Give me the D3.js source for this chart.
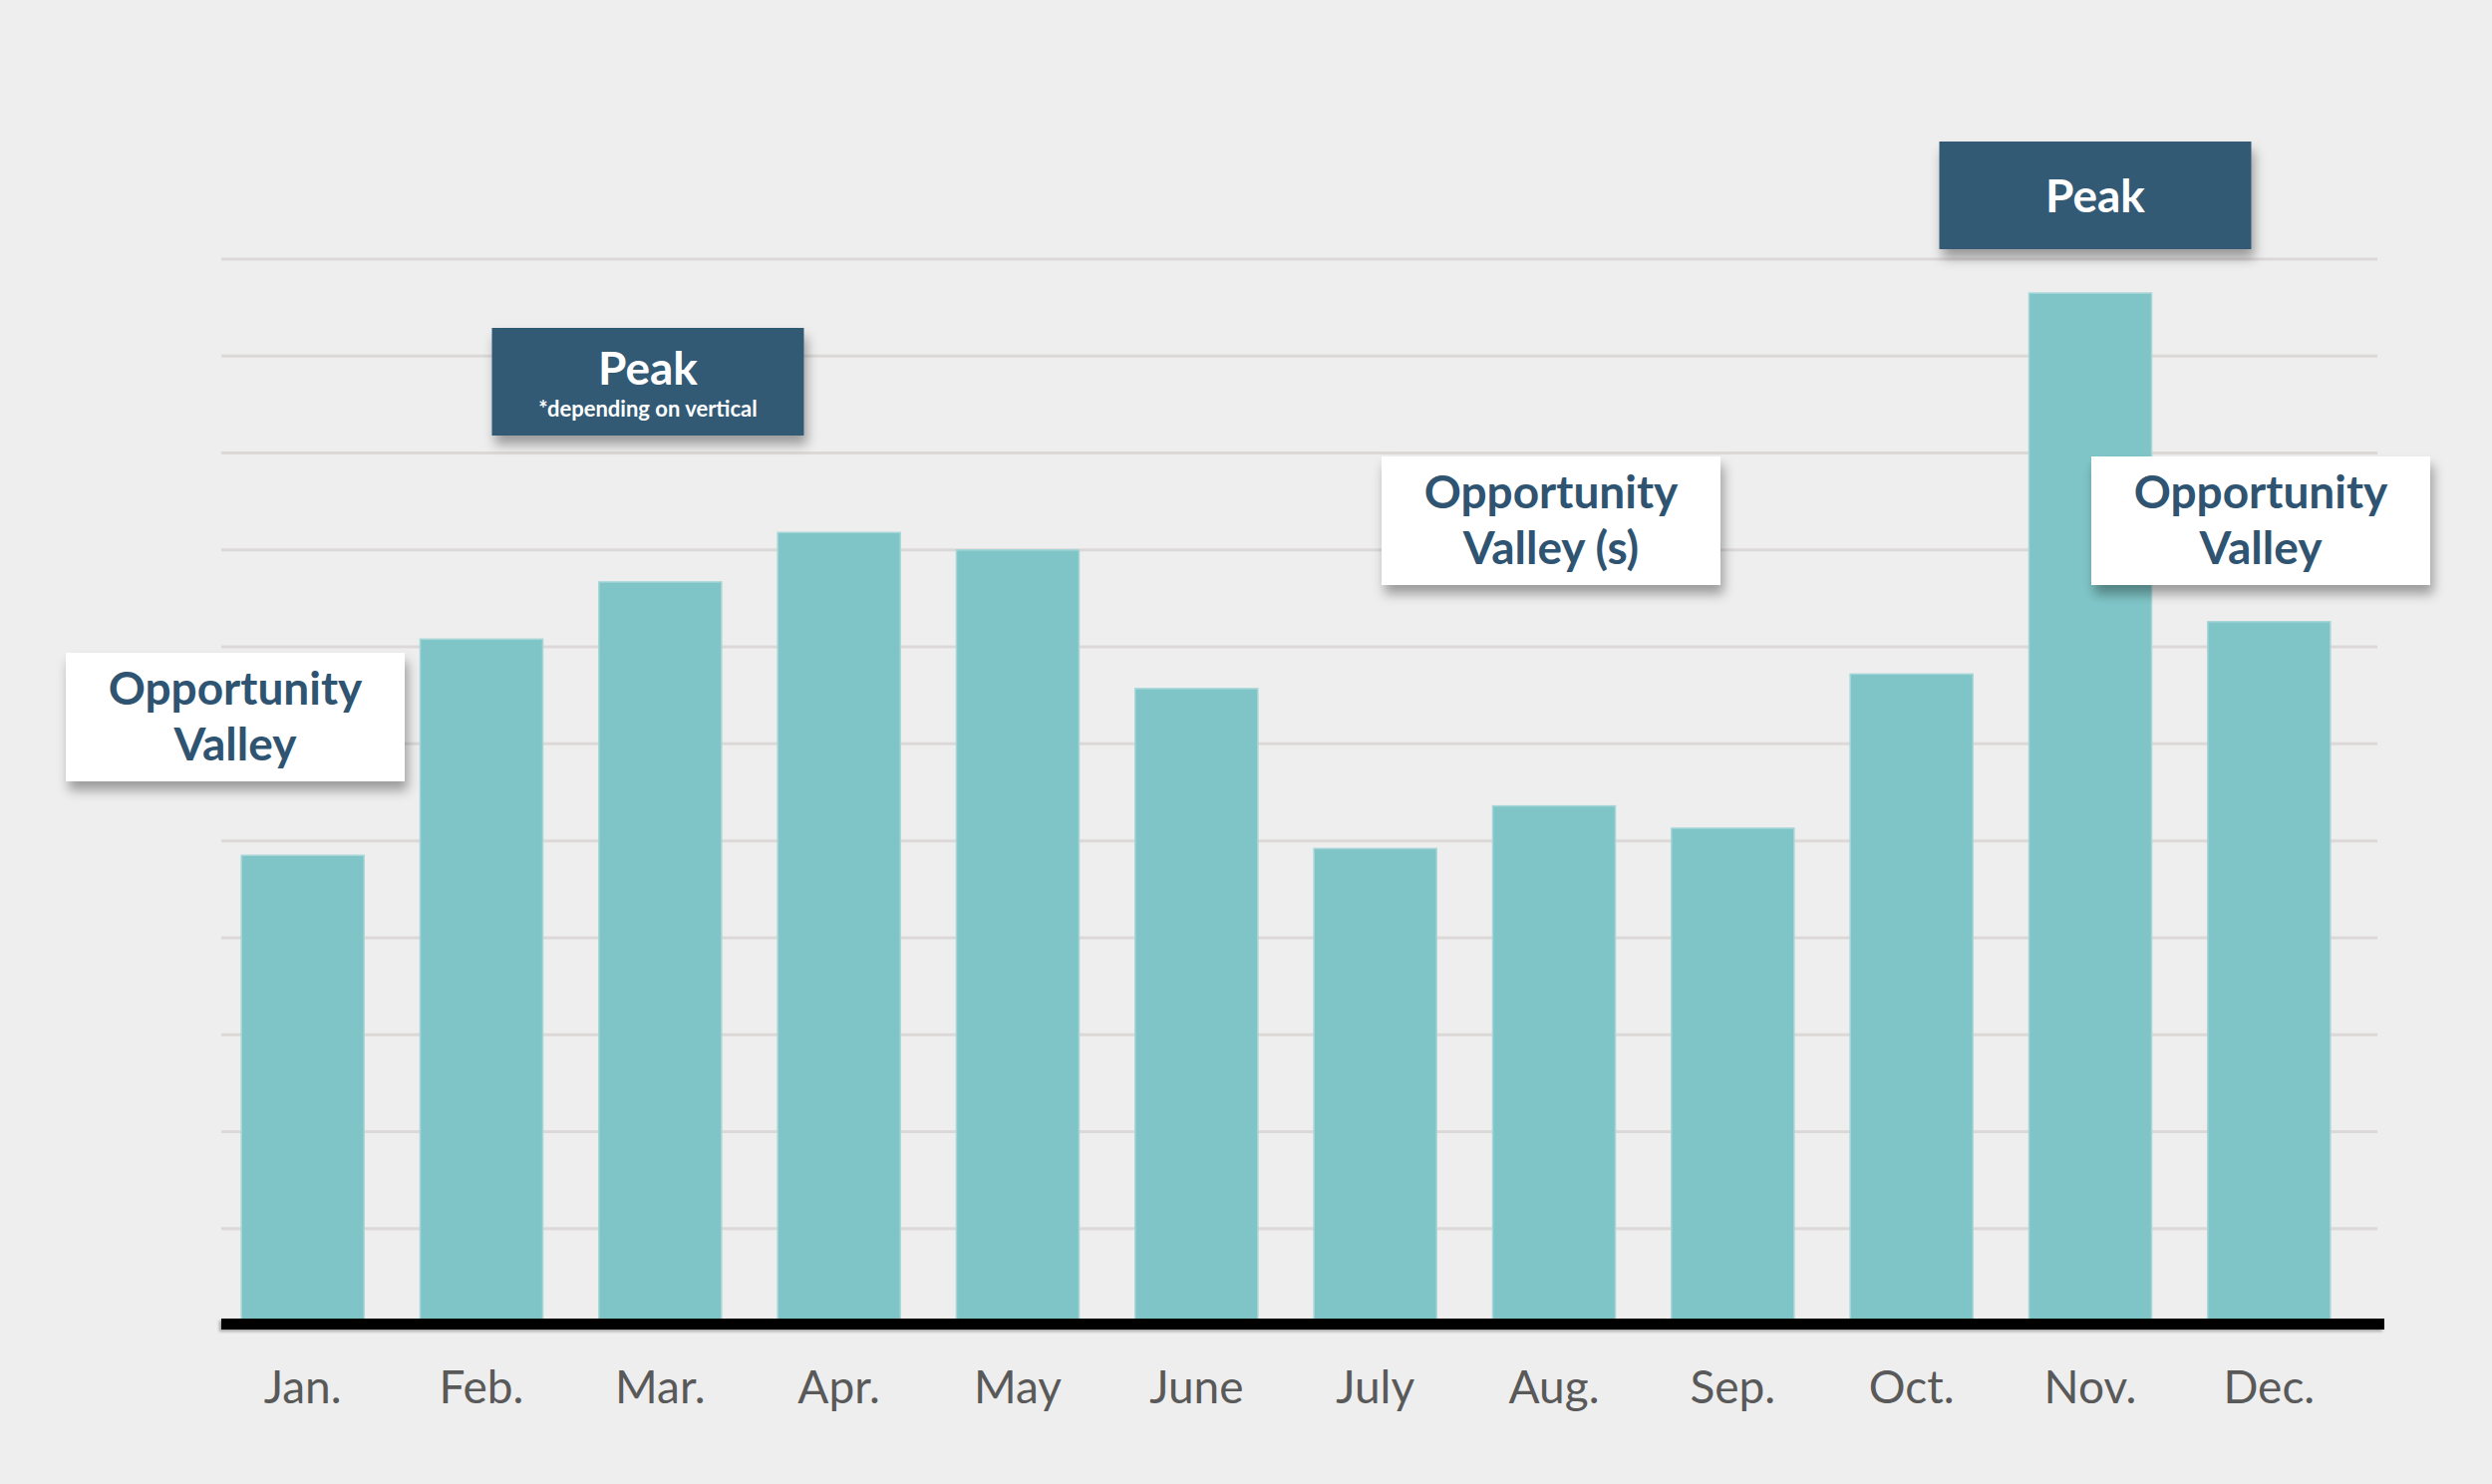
<!DOCTYPE html>
<html>
<head>
<meta charset="utf-8">
<script src="https://cdn.jsdelivr.net/npm/d3@7"></script>
<style>
  html, body { margin: 0; padding: 0; background: #eeeeee; }
  svg { display: block; font-family: Lato, "Open Sans", sans-serif; }
</style>
</head>
<body>
<div id="chart"></div>
<script>
// Monthly volume (grid units)
const months = ["Jan.", "Feb.", "Mar.", "Apr.", "May", "June", "July", "Aug.", "Sep.", "Oct.", "Nov.", "Dec."];
const values = [4.85, 7.08, 7.67, 8.18, 8.0, 6.57, 4.92, 5.36, 5.13, 6.72, 10.65, 7.26];
const gridTicks = d3.range(1, 12);

// Callout boxes: text lines, note and style
const calloutLines = [["Opportunity", "Valley"], ["Peak"], ["Opportunity", "Valley (s)"], ["Peak"], ["Opportunity", "Valley"]];
const calloutNotes = [null, "*depending on vertical", null, null, null];
const calloutKinds = ["valley", "peak", "valley", "peak", "valley"];

const width = 2500, height = 1489;

const svg = d3.select("#chart")
    .append("svg")
    .attr("width", width)
    .attr("height", height);

svg.append("rect").attr("width", width).attr("height", height).attr("fill", "#eeeeee");

const defs = svg.append("defs");
const shadow = defs.append("filter").attr("id", "shadow")
    .attr("x", "-10%").attr("y", "-10%").attr("width", "125%").attr("height", "140%");
shadow.append("feDropShadow")
    .attr("dx", 3).attr("dy", 9).attr("stdDeviation", 6)
    .attr("flood-color", "#000").attr("flood-opacity", 0.35);

const lineShadow = defs.append("filter").attr("id", "lineShadow")
    .attr("x", "-5%").attr("y", "-100%").attr("width", "110%").attr("height", "300%");
lineShadow.append("feDropShadow")
    .attr("dx", -2).attr("dy", 2).attr("stdDeviation", 1.5)
    .attr("flood-color", "#000").attr("flood-opacity", 0.3);

const x = d3.scaleBand()
    .domain(months)
    .range([214, 2366])
    .paddingInner(0.314)
    .paddingOuter(0.157);

const y = d3.scaleLinear()
    .domain([0, 11])
    .range([1330, 260]);

// gridlines
svg.append("g")
    .selectAll("line")
    .data(gridTicks)
    .enter().append("line")
    .attr("x1", 222).attr("x2", 2385)
    .attr("y1", d => y(d)).attr("y2", d => y(d))
    .attr("stroke", "#dcd8d8")
    .attr("stroke-width", 3);

// bars
svg.append("g")
    .selectAll("rect")
    .data(values)
    .enter().append("rect")
    .attr("x", (d, i) => x(months[i]))
    .attr("y", d => y(d))
    .attr("width", x.bandwidth())
    .attr("height", d => y(0) - y(d))
    .attr("fill", "#7fc5c7")
    .attr("stroke", "#a6d6d7")
    .attr("stroke-width", 1.5);

// baseline (thick black rule)
svg.append("rect")
    .attr("x", 222)
    .attr("y", y(0) - 7)
    .attr("width", 2392 - 222)
    .attr("height", 11)
    .attr("fill", "#000")
    .attr("filter", "url(#lineShadow)");

// month labels via bottom axis
const xAxis = svg.append("g")
    .attr("transform", `translate(0,${y(0)})`)
    .call(d3.axisBottom(x).tickSize(0).tickPadding(78));
xAxis.select(".domain").remove();
xAxis.selectAll("text")
    .attr("font-family", "Lato, sans-serif")
    .attr("font-size", 46)
    .attr("fill", "#595959")
    .attr("dy", 0);

// callouts
const boxW = { valley: 340, peak: 313 };
const boxH = { valley: 129, peak: 108 };
const boxTop = [655, 329, 458, 142, 458];
const boxCx = [236, 650, 1556, 2102, 2268];

calloutKinds.forEach((kind, i) => {
    const g = svg.append("g");
    const cx = boxCx[i];
    g.append("rect")
        .attr("x", cx - boxW[kind] / 2)
        .attr("y", boxTop[i])
        .attr("width", boxW[kind])
        .attr("height", boxH[kind])
        .attr("fill", kind === "peak" ? "#335a75" : "#ffffff")
        .attr("filter", "url(#shadow)");
    const lines = calloutLines[i];
    const color = kind === "peak" ? "#ffffff" : "#2e5471";
    let base;
    if (kind === "valley") base = [52, 108];
    else if (calloutNotes[i]) base = [57];
    else base = [71];
    lines.forEach((t, j) => {
        g.append("text")
            .attr("x", cx)
            .attr("y", boxTop[i] + base[j])
            .attr("text-anchor", "middle")
            .attr("font-family", "Lato, sans-serif")
            .attr("font-weight", 700)
            .attr("font-size", 46)
            .attr("fill", color)
            .text(t);
    });
    if (calloutNotes[i]) {
        g.append("text")
            .attr("x", cx)
            .attr("y", boxTop[i] + 89)
            .attr("text-anchor", "middle")
            .attr("font-family", "Lato, sans-serif")
            .attr("font-weight", 700)
            .attr("font-size", 22)
            .attr("fill", color)
            .text(calloutNotes[i]);
    }
});
</script>
</body>
</html>
